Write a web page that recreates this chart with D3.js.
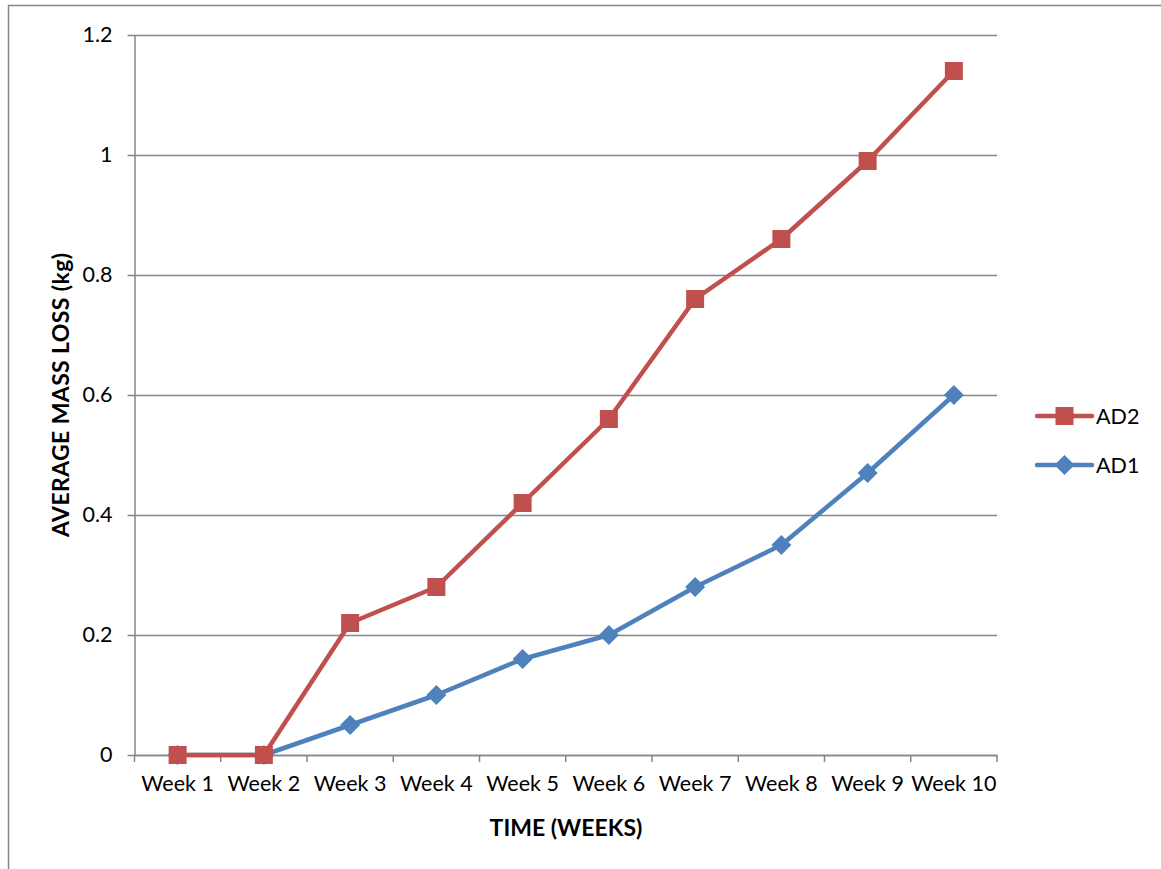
<!DOCTYPE html>
<html>
<head>
<meta charset="utf-8">
<script src="https://cdn.jsdelivr.net/npm/d3@7"></script>
<style>
  html, body { margin: 0; padding: 0; background: #fff; }
  svg { display: block; }
  text { font-family: Lato, "Open Sans", sans-serif; fill: #000; }
</style>
</head>
<body>
<svg id="chart" width="1161" height="869"></svg>
<script>
// Weekly average mass loss for two samples
const weeks = ["Week 1", "Week 2", "Week 3", "Week 4", "Week 5",
               "Week 6", "Week 7", "Week 8", "Week 9", "Week 10"];
const ad2 = [0, 0, 0.22, 0.28, 0.42, 0.56, 0.76, 0.86, 0.99, 1.14];
const ad1 = [0, 0, 0.05, 0.10, 0.16, 0.20, 0.28, 0.35, 0.47, 0.60];
const yTicks = [0, 0.2, 0.4, 0.6, 0.8, 1, 1.2];

const series = [
  { name: "AD2", values: ad2, color: "#C0504D", marker: "square" },
  { name: "AD1", values: ad1, color: "#4F81BD", marker: "diamond" }
];

const svg = d3.select("#chart");
const plot = { left: 134.5, right: 997, top: 35, bottom: 755 };
const labelSize = 21.5, titleSize = 23;

// Outer chart frame
svg.append("rect")
  .attr("x", 8.5).attr("y", 5.5)
  .attr("width", 1200).attr("height", 1000)
  .attr("fill", "none").attr("stroke", "#868686").attr("stroke-width", 1.5);

const x = d3.scaleBand().domain(weeks).range([plot.left, plot.right]);
const y = d3.scaleLinear().domain([0, 1.2]).range([plot.bottom, plot.top]);

// Horizontal gridlines + y axis
const yAxis = d3.axisLeft(y).tickValues(yTicks)
  .tickSize(-(plot.right - plot.left)).tickSizeOuter(0)
  .tickFormat(d => d3.format("~g")(d)).tickPadding(22);
const gy = svg.append("g").attr("transform", `translate(${plot.left},0)`).call(yAxis);
gy.select(".domain").attr("stroke", "#868686").attr("stroke-width", 1.5);
gy.selectAll(".tick line").attr("stroke", "#868686").attr("stroke-width", 1.5).attr("x1", -7);
gy.selectAll(".tick text").attr("font-size", labelSize).attr("font-family", "Lato, sans-serif");

// X axis with ticks on category boundaries
const xAxis = d3.axisBottom(x).tickSize(0).tickPadding(21);
const gx = svg.append("g").attr("transform", `translate(0,${plot.bottom})`).call(xAxis);
gx.select(".domain").attr("stroke", "#868686").attr("stroke-width", 1.5);
gx.selectAll(".tick text").attr("font-size", labelSize).attr("font-family", "Lato, sans-serif");
const bounds = weeks.map(w => x(w)).concat([plot.right]);
gx.selectAll(".bound").data(bounds).enter().append("line")
  .attr("x1", d => d).attr("x2", d => d).attr("y1", 0).attr("y2", 7)
  .attr("stroke", "#868686").attr("stroke-width", 1.5);

const cx = d => x(d) + x.bandwidth() / 2;
const line = d3.line().x((d, i) => cx(weeks[i])).y(d => y(d));

const sq = 18, dia = 10;
function drawMarker(g, type, color) {
  if (type === "square") {
    g.append("rect").attr("x", -sq / 2).attr("y", -sq / 2)
      .attr("width", sq).attr("height", sq).attr("fill", color);
  } else {
    g.append("path").attr("d", `M0,${-dia}L${dia},0L0,${dia}L${-dia},0Z`).attr("fill", color);
  }
}

// Draw AD1 first so AD2 sits on top
[series[1], series[0]].forEach(s => {
  svg.append("path").datum(s.values)
    .attr("d", line).attr("fill", "none")
    .attr("stroke", s.color).attr("stroke-width", 4.5)
    .attr("stroke-linejoin", "round");
  s.values.forEach((v, i) => {
    const g = svg.append("g").attr("transform", `translate(${cx(weeks[i])},${y(v)})`);
    drawMarker(g, s.marker, s.color);
  });
});

// Axis titles
svg.append("text").attr("x", 566).attr("y", 836)
  .attr("text-anchor", "middle").attr("font-weight", "bold").attr("font-size", titleSize)
  .text("TIME (WEEKS)");
svg.append("text").attr("transform", "translate(69,395) rotate(-90)")
  .attr("text-anchor", "middle").attr("font-weight", "bold").attr("font-size", titleSize)
  .attr("textLength", 284).attr("lengthAdjust", "spacing")
  .text("AVERAGE MASS LOSS (kg)");

// Legend
const legend = svg.append("g");
series.forEach((s, i) => {
  const ly = 416 + i * 49;
  legend.append("line").attr("x1", 1037).attr("x2", 1092).attr("y1", ly).attr("y2", ly)
    .attr("stroke", s.color).attr("stroke-width", 4.5).attr("stroke-linecap", "round");
  const g = legend.append("g").attr("transform", `translate(1064.5,${ly})`);
  drawMarker(g, s.marker, s.color);
  legend.append("text").attr("x", 1096).attr("y", ly + 8).attr("font-size", labelSize).text(s.name);
});
</script>
</body>
</html>
